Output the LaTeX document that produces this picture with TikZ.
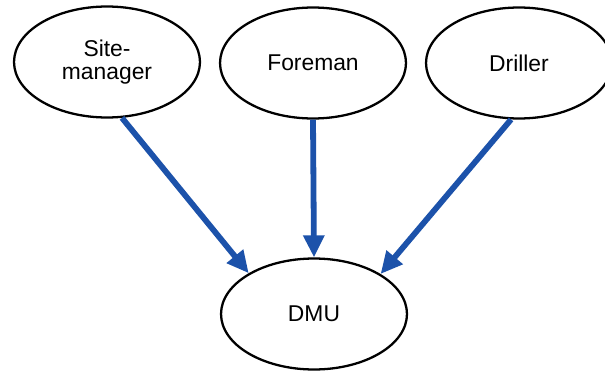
\documentclass[tikz,border=0pt]{standalone}
\usepackage{fontspec}
\setmainfont{Liberation Sans}
\usetikzlibrary{shapes.geometric}
\usetikzlibrary{arrows.meta}
\usepackage{xcolor}

\definecolor{arrowblue}{RGB}{28,82,170}

\tikzset{
  role/.style={ellipse,draw,line width=1.3pt,minimum width=3.72cm,minimum height=2.22cm,
    inner sep=0pt,align=center,font=\fontsize{13}{13}\selectfont},
  flow/.style={arrowblue,line width=3.3pt,-{Triangle[length=12.5pt,width=11.5pt]}}
}

\begin{document}
\begin{tikzpicture}[x=0.02cm,y=-0.02cm]
    \useasboundingbox (0,0) rectangle (605,372);

    \node[role] (site) at (107,62) {Site-\\manager};
    \node[role] (foreman) at (313,63) {Foreman};
    \node[role] (driller) at (519,63) {Driller};
    \node[role] (dmu) at (314,314) {DMU};

    \draw[flow] (site.-75) -- (dmu.148);
    \draw[flow] (foreman.south) -- (dmu.north);
    \draw[flow] (driller.-98) -- (dmu.31);
    % \draw[thick] (foreman) -- (dmu);
\end{tikzpicture}
\end{document}
